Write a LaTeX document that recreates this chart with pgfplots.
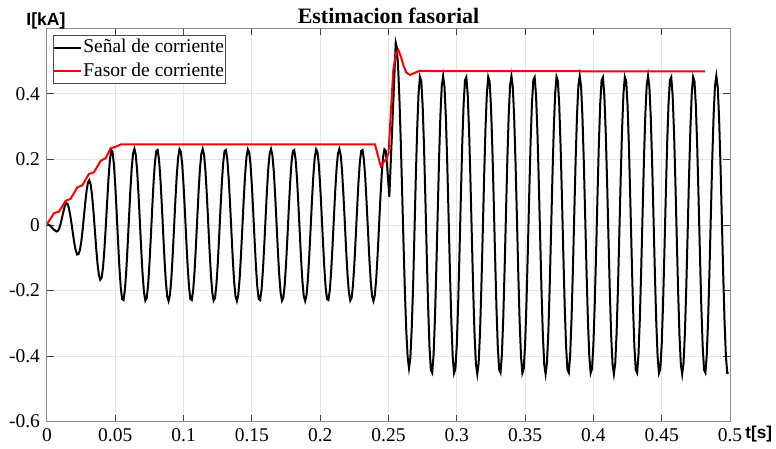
\documentclass[border=0pt]{standalone}
\usepackage{fontspec}
\setmainfont{Liberation Serif}
\setsansfont{Liberation Sans}
\usepackage{pgfplots}
\pgfplotsset{compat=1.18}

\begin{document}
\begin{tikzpicture}
\begin{axis}[
  scale only axis,
  width=341.5pt, height=196.5pt,
  xmin=0, xmax=0.5, ymin=-0.6, ymax=0.6,
  xtick={0,0.05,0.1,0.15,0.2,0.25,0.3,0.35,0.4,0.45,0.5},
  xticklabels={0,0.05,0.1,0.15,0.2,0.25,0.3,0.35,0.4,0.45,0.5},
  ytick={-0.6,-0.4,-0.2,0,0.2,0.4},
  yticklabels={-0.6,-0.4,-0.2,0,0.2,0.4},
  xtick pos=both, ytick pos=both,
  xticklabel pos=lower, yticklabel pos=left,
  grid=major, major grid style={black!10, line width=0.5pt},
  tick align=inside, major tick length=3.5pt,
  tick style={black!75, line width=0.5pt},
  axis line style={black!45, line width=0.5pt},
  tick label style={font=\fontsize{9.75}{11}\selectfont},
  title={Estimacion fasorial},
  every axis title shift=0pt,
  title style={font=\bfseries\fontsize{11}{13}\selectfont, at={(0.5,1)},
               anchor=base, yshift=2.4pt, inner sep=0pt},
  xlabel={t[s]},
  xlabel style={font=\sffamily\bfseries\fontsize{8.6}{10}\selectfont, at={(1,0)},
                anchor=base west, xshift=7.5pt, yshift=-8.25pt, inner sep=0pt},
  ylabel={I[kA]},
  ylabel style={font=\sffamily\bfseries\fontsize{8.8}{10}\selectfont, rotate=-90, at={(0,1)},
                anchor=base west, xshift=-10.5pt, yshift=1.25pt, inner sep=0pt},
  legend style={at={(0,1)}, anchor=north west, xshift=3pt, yshift=-3.25pt,
                draw=black!70, line width=0.5pt, fill=white,
                font=\fontsize{9.75}{11}\selectfont,
                inner xsep=0pt, inner ysep=0.25pt, row sep=0pt,
                nodes={inner sep=0.9pt, text height=0.75em, text depth=0.25em}},
  legend cell align=left,
  legend image code/.code={\draw[#1] (0pt,0pt) -- (13pt,0pt);},
]
% corriente medida, muestreo 1 ms
\addplot[black, line width=1pt, no markers] coordinates {
(0.000,0)(0.001,0.000)(0.002,-0.001)(0.003,-0.005)(0.004,-0.010)(0.005,-0.014)(0.006,-0.017)(0.007,-0.020)(0.008,-0.018)(0.009,-0.010)
(0.010,0.004)(0.011,0.022)(0.012,0.041)(0.013,0.057)(0.014,0.067)(0.015,0.065)(0.016,0.052)(0.017,0.030)(0.018,0.003)(0.019,-0.027)
(0.020,-0.055)(0.021,-0.077)(0.022,-0.090)(0.023,-0.089)(0.024,-0.078)(0.025,-0.054)(0.026,-0.018)(0.027,0.025)(0.028,0.068)(0.029,0.105)
(0.030,0.130)(0.031,0.137)(0.032,0.123)(0.033,0.090)(0.034,0.043)(0.035,-0.013)(0.036,-0.070)(0.037,-0.119)(0.038,-0.154)(0.039,-0.167)
(0.040,-0.161)(0.041,-0.130)(0.042,-0.076)(0.043,-0.008)(0.044,0.068)(0.045,0.140)(0.046,0.197)(0.047,0.229)(0.048,0.223)(0.049,0.184)
(0.050,0.119)(0.051,0.038)(0.052,-0.049)(0.053,-0.129)(0.054,-0.191)(0.055,-0.226)(0.056,-0.229)(0.057,-0.200)(0.058,-0.143)(0.059,-0.066)
(0.060,0.020)(0.061,0.104)(0.062,0.173)(0.063,0.218)(0.064,0.232)(0.065,0.214)(0.066,0.165)(0.067,0.093)(0.068,0.009)(0.069,-0.077)
(0.070,-0.152)(0.071,-0.206)(0.072,-0.231)(0.073,-0.223)(0.074,-0.184)(0.075,-0.119)(0.076,-0.038)(0.077,0.049)(0.078,0.129)(0.079,0.191)
(0.080,0.226)(0.081,0.229)(0.082,0.200)(0.083,0.143)(0.084,0.066)(0.085,-0.020)(0.086,-0.104)(0.087,-0.173)(0.088,-0.218)(0.089,-0.232)
(0.090,-0.214)(0.091,-0.165)(0.092,-0.093)(0.093,-0.009)(0.094,0.077)(0.095,0.152)(0.096,0.206)(0.097,0.231)(0.098,0.223)(0.099,0.184)
(0.100,0.119)(0.101,0.038)(0.102,-0.049)(0.103,-0.129)(0.104,-0.191)(0.105,-0.226)(0.106,-0.229)(0.107,-0.200)(0.108,-0.143)(0.109,-0.066)
(0.110,0.020)(0.111,0.104)(0.112,0.173)(0.113,0.218)(0.114,0.232)(0.115,0.214)(0.116,0.165)(0.117,0.093)(0.118,0.009)(0.119,-0.077)
(0.120,-0.152)(0.121,-0.206)(0.122,-0.231)(0.123,-0.223)(0.124,-0.184)(0.125,-0.119)(0.126,-0.038)(0.127,0.049)(0.128,0.129)(0.129,0.191)
(0.130,0.226)(0.131,0.229)(0.132,0.200)(0.133,0.143)(0.134,0.066)(0.135,-0.020)(0.136,-0.104)(0.137,-0.173)(0.138,-0.218)(0.139,-0.232)
(0.140,-0.214)(0.141,-0.165)(0.142,-0.093)(0.143,-0.009)(0.144,0.077)(0.145,0.152)(0.146,0.206)(0.147,0.231)(0.148,0.223)(0.149,0.184)
(0.150,0.119)(0.151,0.038)(0.152,-0.049)(0.153,-0.129)(0.154,-0.191)(0.155,-0.226)(0.156,-0.229)(0.157,-0.200)(0.158,-0.143)(0.159,-0.066)
(0.160,0.020)(0.161,0.104)(0.162,0.173)(0.163,0.218)(0.164,0.232)(0.165,0.214)(0.166,0.165)(0.167,0.093)(0.168,0.009)(0.169,-0.077)
(0.170,-0.152)(0.171,-0.206)(0.172,-0.231)(0.173,-0.223)(0.174,-0.184)(0.175,-0.119)(0.176,-0.038)(0.177,0.049)(0.178,0.129)(0.179,0.191)
(0.180,0.226)(0.181,0.229)(0.182,0.200)(0.183,0.143)(0.184,0.066)(0.185,-0.020)(0.186,-0.104)(0.187,-0.173)(0.188,-0.218)(0.189,-0.232)
(0.190,-0.214)(0.191,-0.165)(0.192,-0.093)(0.193,-0.009)(0.194,0.077)(0.195,0.152)(0.196,0.206)(0.197,0.231)(0.198,0.223)(0.199,0.184)
(0.200,0.119)(0.201,0.038)(0.202,-0.049)(0.203,-0.129)(0.204,-0.191)(0.205,-0.226)(0.206,-0.229)(0.207,-0.200)(0.208,-0.143)(0.209,-0.066)
(0.210,0.020)(0.211,0.104)(0.212,0.173)(0.213,0.218)(0.214,0.232)(0.215,0.214)(0.216,0.165)(0.217,0.093)(0.218,0.009)(0.219,-0.077)
(0.220,-0.152)(0.221,-0.206)(0.222,-0.231)(0.223,-0.223)(0.224,-0.184)(0.225,-0.119)(0.226,-0.038)(0.227,0.049)(0.228,0.129)(0.229,0.191)
(0.230,0.226)(0.231,0.229)(0.232,0.200)(0.233,0.143)(0.234,0.066)(0.235,-0.020)(0.236,-0.104)(0.237,-0.173)(0.238,-0.218)(0.239,-0.232)
(0.240,-0.214)(0.241,-0.165)(0.242,-0.093)(0.243,-0.009)(0.244,0.077)(0.245,0.152)(0.246,0.206)(0.247,0.231)(0.248,0.226)(0.249,0.180)
(0.2506,0.086)(0.251,0.126)(0.252,0.226)(0.253,0.326)(0.254,0.426)(0.255,0.526)(0.2553,0.557)(0.256,0.545)(0.257,0.486)(0.258,0.385)
(0.259,0.252)(0.260,0.099)(0.261,-0.057)(0.262,-0.203)(0.263,-0.322)(0.264,-0.402)(0.265,-0.437)(0.266,-0.406)(0.267,-0.316)
(0.268,-0.189)(0.269,-0.023)(0.270,0.146)(0.271,0.294)(0.272,0.401)(0.273,0.452)(0.274,0.439)(0.275,0.365)(0.276,0.239)(0.277,0.080)
(0.278,-0.091)(0.279,-0.249)(0.280,-0.371)(0.281,-0.442)(0.282,-0.451)(0.283,-0.396)(0.284,-0.286)(0.285,-0.135)(0.286,0.034)(0.287,0.199)
(0.288,0.336)(0.289,0.425)(0.290,0.455)(0.291,0.421)(0.292,0.328)(0.293,0.189)(0.294,0.023)(0.295,-0.146)(0.296,-0.294)(0.297,-0.401)
(0.298,-0.452)(0.299,-0.439)
(0.300,-0.365)(0.301,-0.239)(0.302,-0.080)(0.303,0.091)(0.304,0.249)(0.305,0.371)(0.306,0.442)(0.307,0.451)(0.308,0.396)(0.309,0.286)
(0.310,0.135)(0.311,-0.034)(0.312,-0.199)(0.313,-0.336)(0.314,-0.425)(0.315,-0.455)(0.316,-0.421)(0.317,-0.328)(0.318,-0.189)(0.319,-0.023)
(0.320,0.146)(0.321,0.294)(0.322,0.401)(0.323,0.452)(0.324,0.439)(0.325,0.365)(0.326,0.239)(0.327,0.080)(0.328,-0.091)(0.329,-0.249)
(0.330,-0.371)(0.331,-0.442)(0.332,-0.451)(0.333,-0.396)(0.334,-0.286)(0.335,-0.135)(0.336,0.034)(0.337,0.199)(0.338,0.336)(0.339,0.425)
(0.340,0.455)(0.341,0.421)(0.342,0.328)(0.343,0.189)(0.344,0.023)(0.345,-0.146)(0.346,-0.294)(0.347,-0.401)(0.348,-0.452)(0.349,-0.439)
(0.350,-0.365)(0.351,-0.239)(0.352,-0.080)(0.353,0.091)(0.354,0.249)(0.355,0.371)(0.356,0.442)(0.357,0.451)(0.358,0.396)(0.359,0.286)
(0.360,0.135)(0.361,-0.034)(0.362,-0.199)(0.363,-0.336)(0.364,-0.425)(0.365,-0.455)(0.366,-0.421)(0.367,-0.328)(0.368,-0.189)(0.369,-0.023)
(0.370,0.146)(0.371,0.294)(0.372,0.401)(0.373,0.452)(0.374,0.439)(0.375,0.365)(0.376,0.239)(0.377,0.080)(0.378,-0.091)(0.379,-0.249)
(0.380,-0.371)(0.381,-0.442)(0.382,-0.451)(0.383,-0.396)(0.384,-0.286)(0.385,-0.135)(0.386,0.034)(0.387,0.199)(0.388,0.336)(0.389,0.425)
(0.390,0.455)(0.391,0.421)(0.392,0.328)(0.393,0.189)(0.394,0.023)(0.395,-0.146)(0.396,-0.294)(0.397,-0.401)(0.398,-0.452)(0.399,-0.439)
(0.400,-0.365)(0.401,-0.239)(0.402,-0.080)(0.403,0.091)(0.404,0.249)(0.405,0.371)(0.406,0.442)(0.407,0.451)(0.408,0.396)(0.409,0.286)
(0.410,0.135)(0.411,-0.034)(0.412,-0.199)(0.413,-0.336)(0.414,-0.425)(0.415,-0.455)(0.416,-0.421)(0.417,-0.328)(0.418,-0.189)(0.419,-0.023)
(0.420,0.146)(0.421,0.294)(0.422,0.401)(0.423,0.452)(0.424,0.439)(0.425,0.365)(0.426,0.239)(0.427,0.080)(0.428,-0.091)(0.429,-0.249)
(0.430,-0.371)(0.431,-0.442)(0.432,-0.451)(0.433,-0.396)(0.434,-0.286)(0.435,-0.135)(0.436,0.034)(0.437,0.199)(0.438,0.336)(0.439,0.425)
(0.440,0.455)(0.441,0.421)(0.442,0.328)(0.443,0.189)(0.444,0.023)(0.445,-0.146)(0.446,-0.294)(0.447,-0.401)(0.448,-0.452)(0.449,-0.439)
(0.450,-0.365)(0.451,-0.239)(0.452,-0.080)(0.453,0.091)(0.454,0.249)(0.455,0.371)(0.456,0.442)(0.457,0.451)(0.458,0.396)(0.459,0.286)
(0.460,0.135)(0.461,-0.034)(0.462,-0.199)(0.463,-0.336)(0.464,-0.425)(0.465,-0.455)(0.466,-0.421)(0.467,-0.328)(0.468,-0.189)(0.469,-0.023)
(0.470,0.146)(0.471,0.294)(0.472,0.401)(0.473,0.452)(0.474,0.439)(0.475,0.365)(0.476,0.239)(0.477,0.080)(0.478,-0.091)(0.479,-0.249)
(0.480,-0.371)(0.481,-0.442)(0.482,-0.451)(0.483,-0.396)(0.484,-0.286)(0.485,-0.135)(0.486,0.034)(0.487,0.199)(0.488,0.336)(0.489,0.425)
(0.490,0.455)(0.491,0.421)(0.492,0.328)(0.493,0.189)(0.494,0.023)(0.495,-0.146)(0.496,-0.294)(0.497,-0.401)(0.498,-0.452)(0.499,-0.452)
};
\addlegendentry{Señal de corriente}
% fasor estimado
\addplot[red, line width=1pt, no markers] coordinates {
(0,0)(0.0007,0.007)(0.0051,0.036)(0.0088,0.041)(0.0137,0.074)(0.0173,0.080)(0.0222,0.115)(0.0259,0.121)
(0.0307,0.156)(0.0344,0.161)(0.0393,0.196)(0.0430,0.204)(0.0466,0.234)(0.0503,0.239)(0.0540,0.246)
(0.100,0.246)(0.150,0.246)(0.200,0.246)(0.2401,0.246)(0.2443,0.180)(0.2487,0.204)(0.2500,0.220)
(0.2535,0.473)(0.2555,0.525)(0.2572,0.534)(0.2590,0.515)(0.2608,0.489)(0.2630,0.466)(0.2657,0.458)
(0.2700,0.466)(0.2731,0.471)(0.2800,0.470)(0.4817,0.469)
};
\addlegendentry{Fasor de corriente}
\end{axis}
\pgfresetboundingbox
\path[use as bounding box] ([xshift=-23.5pt,yshift=-13.25pt]current axis.south west)
  rectangle ([xshift=23pt,yshift=14.25pt]current axis.north east);
\end{tikzpicture}
\end{document}
